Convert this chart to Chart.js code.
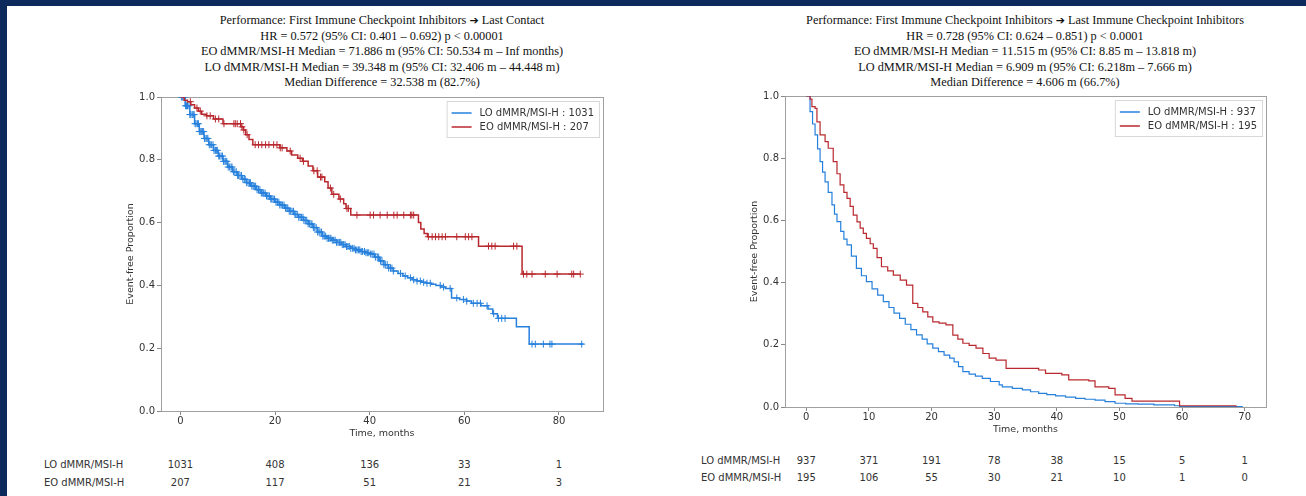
<!DOCTYPE html>
<html>
<head>
<meta charset="utf-8">
<script src="https://cdn.jsdelivr.net/npm/chart.js@4.4.1/dist/chart.umd.min.js"></script>
<style>
  html, body { margin: 0; padding: 0; }
  body { width: 1306px; height: 496px; background: #0c2a5c; position: relative; overflow: hidden; }
  #panel { position: absolute; left: 7px; top: 6px; right: 0; bottom: 0; background: #fff; }
  .title { position: absolute; font-family: "Liberation Serif", "Times New Roman", serif; font-size: 12.3px;
           line-height: 15.5px; color: #111; text-align: center; white-space: nowrap; }
  .title .arr { font-family: "DejaVu Sans", sans-serif; font-size: 11px; }
  .box { position: absolute; }
  .risk { position: absolute; font-family: "DejaVu Sans", sans-serif; font-size: 10px; color: #333;
          white-space: nowrap; line-height: 12px; }
</style>
</head>
<body>
<div id="panel"></div>

<div class="title" style="left:182px; top:13px; width:400px;">
  Performance: First Immune Checkpoint Inhibitors <span class="arr">➔</span> Last Contact<br>
  HR = 0.572 (95% CI: 0.401 – 0.692) p &lt; 0.00001<br>
  EO dMMR/MSI-H Median = 71.886 m (95% CI: 50.534 m – Inf months)<br>
  LO dMMR/MSI-H Median = 39.348 m (95% CI: 32.406 m – 44.448 m)<br>
  Median Difference = 32.538 m (82.7%)
</div>
<div class="title" style="left:795px; top:13px; width:460px;">
  Performance: First Immune Checkpoint Inhibitors <span class="arr">➔</span> Last Immune Checkpoint Inhibitors<br>
  HR = 0.728 (95% CI: 0.624 – 0.851) p &lt; 0.0001<br>
  EO dMMR/MSI-H Median = 11.515 m (95% CI: 8.85 m – 13.818 m)<br>
  LO dMMR/MSI-H Median = 6.909 m (95% CI: 6.218m – 7.666 m)<br>
  Median Difference = 4.606 m (66.7%)
</div>

<div class="box" style="left:90px; top:88px;"><canvas id="leftChart" width="530" height="353"></canvas></div>
<div class="box" style="left:690px; top:88px;"><canvas id="rightChart" width="595" height="349"></canvas></div>
<div id="riskTables"></div>

<script>
// ---- left panel: first ICI -> last contact ----
const leftTicks = [0, 20, 40, 60, 80];
const leftLoTime = [0, 1, 2, 3, 4, 5, 6, 7, 8, 9, 10, 11, 12, 13, 14, 15, 16, 17, 18, 19, 20, 21, 22, 23, 24, 25,
  26, 27, 28, 29, 30, 31, 32, 33, 34, 35, 36, 37, 38, 39, 40, 41, 42, 43, 44, 45, 46, 47, 48, 49, 50, 51, 52,
  53, 54, 55, 56, 57.3, 59, 60.5, 61.5, 63.5, 65, 66, 67, 71, 73.7, 85.2];
const leftLoSurv = [1.0, 0.972, 0.944, 0.915, 0.89, 0.868, 0.848, 0.83, 0.812, 0.795, 0.777, 0.762, 0.75, 0.738,
  0.727, 0.716, 0.705, 0.694, 0.685, 0.675, 0.665, 0.656, 0.646, 0.636, 0.626, 0.617, 0.607, 0.596, 0.584, 0.57,
  0.557, 0.55, 0.544, 0.537, 0.53, 0.524, 0.518, 0.513, 0.508, 0.504, 0.5, 0.49, 0.478, 0.466, 0.455, 0.446,
  0.438, 0.43, 0.424, 0.418, 0.414, 0.41, 0.407, 0.404, 0.4, 0.395, 0.39, 0.36, 0.355, 0.35, 0.343, 0.335,
  0.325, 0.31, 0.295, 0.268, 0.213, 0.213];
const leftEoTime = [0, 0.8, 1.5, 2.2, 3.0, 3.8, 4.5, 5.5, 7.0, 9.0, 12.8, 13.3, 13.8, 14.5, 15.3, 21.0, 22.5,
  23.5, 24.8, 25.8, 27.0, 28.0, 29.0, 30.5, 31.2, 32.0, 33.5, 34.5, 35.0, 36.0, 50.3, 50.8, 51.5, 52.2, 63.0,
  72.2, 84.5];
const leftEoSurv = [1.0, 0.99, 0.985, 0.975, 0.965, 0.955, 0.945, 0.94, 0.93, 0.915, 0.905, 0.895, 0.88, 0.865,
  0.848, 0.838, 0.828, 0.815, 0.805, 0.795, 0.78, 0.765, 0.745, 0.73, 0.71, 0.69, 0.675, 0.66, 0.645, 0.624,
  0.6, 0.58, 0.565, 0.555, 0.525, 0.436, 0.436];
const leftLoCensor = [0.2, 0.4, 0.6, 0.9, 1.1, 1.3, 1.5, 1.8, 2.0, 2.2, 2.5, 2.7, 2.9, 3.1, 3.3, 3.6, 3.8, 4.0,
  4.2, 4.5, 4.7, 4.9, 5.1, 5.4, 5.6, 5.8, 6.1, 6.3, 6.6, 6.9, 7.1, 7.4, 7.6, 7.8, 8.1, 8.3, 8.6, 8.9, 9.1, 9.4,
  9.6, 9.8, 10.1, 10.4, 10.7, 10.9, 11.2, 11.5, 11.8, 12.1, 12.3, 12.6, 12.9, 13.2, 13.5, 13.7, 14.0, 14.3,
  14.6, 14.8, 15.1, 15.4, 15.7, 15.9, 16.2, 16.5, 16.8, 17.1, 17.4, 17.6, 17.9, 18.2, 18.5, 18.8, 19.1, 19.3,
  19.6, 19.9, 20.2, 20.5, 20.8, 21.0, 21.3, 21.6, 21.9, 22.2, 22.5, 22.7, 23.0, 23.3, 23.6, 23.9, 24.2, 24.4,
  24.7, 25.0, 25.3, 25.6, 25.9, 26.1, 26.4, 26.7, 27.0, 27.3, 27.6, 27.8, 28.1, 28.4, 28.7, 29.0, 29.3, 29.5,
  29.8, 30.1, 30.4, 30.7, 31.0, 31.3, 31.6, 31.8, 32.1, 32.4, 32.7, 33.0, 33.3, 33.6, 33.9, 34.2, 34.5, 34.8,
  35.1, 35.4, 35.7, 36.0, 36.4, 36.7, 37.0, 37.3, 37.6, 37.9, 38.2, 38.5, 38.9, 39.2, 39.5, 39.8, 40.2, 40.5,
  40.9, 41.2, 41.6, 41.9, 42.3, 42.6, 43.0, 43.3, 43.7, 44.0, 44.4, 44.7, 45.0, 46.5, 47.5, 48.6, 49.3, 50.0,
  50.7, 51.4, 52.1, 52.8, 54.9, 55.6, 57.0, 58.4, 59.8, 60.5, 61.9, 62.7, 63.4, 64.8, 66.2, 67.2, 67.9, 68.6,
  74.3, 75.0, 76.7, 78.1, 78.5, 84.8];
const leftEoCensor = [2.1, 3.5, 4.2, 5.6, 6.3, 7.4, 8.1, 9.2, 11.3, 11.6, 12.0, 12.7, 13.0, 13.4, 14.1, 15.8,
  16.5, 17.2, 18.0, 18.7, 19.7, 20.4, 21.1, 21.5, 23.2, 25.3, 26.0, 28.2, 28.9, 29.6, 29.9, 31.7, 32.4, 33.8,
  35.2, 35.5, 37.3, 40.1, 40.8, 42.2, 43.7, 45.1, 45.8, 47.2, 48.6, 48.9, 49.3, 52.4, 53.2, 53.9, 54.6, 55.3,
  56.0, 58.4, 60.2, 60.9, 61.6, 65.1, 65.8, 66.5, 70.4, 71.1, 72.5, 73.2, 74.3, 77.1, 79.6, 82.7, 83.1, 84.5];
const leftRiskLo = [1031, 408, 136, 33, 1];
const leftRiskEo = [207, 117, 51, 21, 3];

// ---- right panel: first ICI -> last ICI ----
const rightTicks = [0, 10, 20, 30, 40, 50, 60, 70];
const rightLoTime = [0, 0.6, 1.0, 1.4, 1.8, 2.2, 2.6, 3.0, 3.5, 4.1, 4.5, 4.9, 5.5, 6.0, 6.5, 7.2, 8.0, 8.8, 9.6,
  10.5, 11.4, 12.3, 13.2, 14.0, 14.9, 15.8, 16.7, 17.6, 18.5, 19.3, 20.2, 21.1, 22.0, 22.9, 23.6, 24.3, 25.0,
  26.0, 27.0, 28.1, 29.4, 30.8, 31.3, 32.9, 34.5, 35.8, 37.1, 38.4, 39.8, 41.4, 43.0, 44.5, 46.1, 47.7, 49.3,
  51.0, 53.0, 55.5, 58.8, 59.6, 69.7];
const rightLoSurv = [1.0, 0.95, 0.91, 0.875, 0.83, 0.789, 0.755, 0.724, 0.69, 0.65, 0.62, 0.596, 0.565, 0.54,
  0.521, 0.485, 0.446, 0.422, 0.403, 0.38, 0.36, 0.339, 0.32, 0.302, 0.285, 0.266, 0.249, 0.232, 0.218, 0.203,
  0.189, 0.178, 0.167, 0.157, 0.145, 0.13, 0.114, 0.106, 0.099, 0.092, 0.082, 0.071, 0.065, 0.06, 0.055, 0.049,
  0.044, 0.04, 0.036, 0.032, 0.028, 0.025, 0.022, 0.017, 0.012, 0.01, 0.009, 0.007, 0.004, 0.001, 0.001];
const rightEoTime = [0, 0.6, 0.9, 1.4, 1.7, 2.2, 3.0, 3.5, 4.3, 4.9, 5.4, 6.0, 6.5, 7.0, 7.5, 8.1, 8.6, 9.1, 9.6,
  10.2, 10.7, 11.3, 12.0, 13.0, 13.9, 15.0, 16.0, 17.0, 17.8, 18.6, 19.4, 20.2, 21.2, 22.3, 23.4, 24.2, 25.0,
  26.0, 27.1, 28.2, 29.2, 30.3, 31.9, 37.1, 38.2, 40.8, 41.9, 45.1, 46.1, 48.3, 49.3, 50.9, 52.0, 58.3, 59.6,
  68.6];
const rightEoSurv = [1.0, 0.99, 0.966, 0.96, 0.917, 0.875, 0.853, 0.832, 0.789, 0.75, 0.714, 0.69, 0.671, 0.645,
  0.617, 0.595, 0.575, 0.558, 0.542, 0.525, 0.51, 0.48, 0.451, 0.438, 0.424, 0.408, 0.392, 0.333, 0.32, 0.306,
  0.29, 0.274, 0.27, 0.264, 0.231, 0.218, 0.205, 0.198, 0.189, 0.172, 0.157, 0.151, 0.124, 0.119, 0.108, 0.103,
  0.087, 0.084, 0.065, 0.06, 0.039, 0.028, 0.019, 0.019, 0.004, 0.001];
const rightRiskLo = [937, 371, 191, 78, 38, 15, 5, 1];
const rightRiskEo = [195, 106, 55, 30, 21, 10, 1, 0];

const riskLabels = ['LO dMMR/MSI-H', 'EO dMMR/MSI-H'];
const BLUE = '#2680dc';
const RED = '#b8282e';
const FONT = 'DejaVu Sans';

Chart.defaults.font.family = FONT;
Chart.defaults.color = '#333';

function toPoints(times, surv) {
    return times.map((t, i) => ({ x: t, y: surv[i] }));
}

// survival value of a step curve at time t (for censor marks)
function survAt(times, surv, t) {
    let s = surv[0];
    for (let i = 0; i < times.length; i++) {
        if (times[i] <= t) s = surv[i];
    }
    return s;
}

function censorPoints(times, surv, cens) {
    return cens.map(t => ({ x: t, y: survAt(times, surv, t) }));
}

// box around the plot area, like matplotlib spines
const framePlugin = {
    id: 'frame',
    beforeDatasetsDraw(chart) {
        const { ctx, chartArea: a } = chart;
        ctx.save();
        ctx.strokeStyle = '#a0a0a0';
        ctx.lineWidth = 1;
        ctx.strokeRect(a.left + 0.5, a.top + 0.5, a.right - a.left, a.bottom - a.top);
        ctx.restore();
    }
};

// legend drawn inside the upper right corner of the plot
const insideLegend = {
    id: 'insideLegend',
    afterDraw(chart, args, opts) {
        const { ctx, chartArea: a } = chart;
        ctx.save();
        ctx.font = '10px "' + FONT + '"';
        const textW = Math.max(...opts.items.map(it => ctx.measureText(it.label).width));
        const w = textW + 38;
        const h = 36;
        const x = a.right - w - opts.margin;
        const y = a.top + opts.margin;
        ctx.fillStyle = 'rgba(255,255,255,0.9)';
        ctx.strokeStyle = '#d8d8d8';
        ctx.lineWidth = 1;
        ctx.fillRect(x, y, w, h);
        ctx.strokeRect(x + 0.5, y + 0.5, w, h);
        opts.items.forEach((it, i) => {
            const cy = y + 12 + i * 14;
            ctx.strokeStyle = it.color;
            ctx.lineWidth = 1.5;
            ctx.beginPath();
            ctx.moveTo(x + 5, cy);
            ctx.lineTo(x + 25, cy);
            ctx.stroke();
            ctx.fillStyle = '#333';
            ctx.textBaseline = 'middle';
            ctx.fillText(it.label, x + 33, cy);
        });
        ctx.restore();
    }
};

function makeKmChart(id, cfg) {
    const ctx = document.getElementById(id).getContext('2d');
    const datasets = [{
        label: 'EO',
        data: toPoints(cfg.eoTime, cfg.eoSurv),
        showLine: true,
        stepped: 'before',
        borderColor: RED,
        borderWidth: cfg.lineWidth,
        pointRadius: 0,
        order: 1
    }, {
        label: 'LO',
        data: toPoints(cfg.loTime, cfg.loSurv),
        showLine: true,
        stepped: 'before',
        borderColor: BLUE,
        borderWidth: cfg.lineWidth,
        pointRadius: 0,
        order: 2
    }];
    if (cfg.eoCensor) {
        datasets.push({
            label: 'EO censored',
            data: censorPoints(cfg.eoTime, cfg.eoSurv, cfg.eoCensor),
            pointStyle: 'cross',
            pointRadius: 3.5,
            pointBorderWidth: 1,
            borderColor: RED,
            order: 1
        });
        datasets.push({
            label: 'LO censored',
            data: censorPoints(cfg.loTime, cfg.loSurv, cfg.loCensor),
            pointStyle: 'cross',
            pointRadius: 3.5,
            pointBorderWidth: 1,
            borderColor: BLUE,
            order: 2
        });
    }
    return new Chart(ctx, {
        type: 'scatter',
        data: { datasets },
        plugins: [framePlugin, insideLegend],
        options: {
            responsive: false,
            animation: false,
            devicePixelRatio: 1,
            layout: { padding: cfg.padding },
            plugins: {
                legend: { display: false },
                tooltip: { enabled: false },
                insideLegend: { items: cfg.legend, margin: 4 }
            },
            scales: {
                x: {
                    type: 'linear',
                    min: cfg.xMin,
                    max: cfg.xMax,
                    afterBuildTicks: s => { s.ticks = cfg.ticks.map(v => ({ value: v })); },
                    afterFit: s => { s.height = 30; },
                    grid: { drawOnChartArea: false, tickLength: 4, color: '#888' },
                    border: { color: '#a0a0a0' },
                    ticks: { padding: 0, font: { size: 10 }, color: '#333' },
                    title: { display: true, text: 'Time, months', font: { size: 9.5 }, color: '#333',
                             padding: { top: 0, bottom: 1.5 } }
                },
                y: {
                    min: 0,
                    max: 1,
                    afterFit: s => { s.width = cfg.yWidth; },
                    grid: { drawOnChartArea: false, tickLength: 4, color: '#888' },
                    border: { color: '#a0a0a0' },
                    ticks: { stepSize: 0.2, padding: 2, font: { size: 10 }, color: '#333',
                             callback: v => v.toFixed(1) },
                    title: { display: true, text: 'Event-free Proportion', font: { size: 9.5 }, color: '#333',
                             padding: { top: cfg.yTitlePad, bottom: 0 } }
                }
            }
        }
    });
}

function riskTable(chart, boxLeft, labelX, rowsY, rows) {
    const host = document.getElementById('riskTables');
    const xs = chart.scales.x;
    rows.forEach((vals, r) => {
        const lab = document.createElement('div');
        lab.className = 'risk';
        lab.style.left = labelX + 'px';
        lab.style.top = (rowsY[r] - 6) + 'px';
        lab.textContent = riskLabels[r];
        host.appendChild(lab);
        vals.forEach((v, i) => {
            const el = document.createElement('div');
            el.className = 'risk';
            el.style.left = (boxLeft + xs.getPixelForValue(xs.ticks[i].value) - 30) + 'px';
            el.style.width = '60px';
            el.style.textAlign = 'center';
            el.style.top = (rowsY[r] - 6) + 'px';
            el.textContent = v;
            host.appendChild(el);
        });
    });
}

const leftChart = makeKmChart('leftChart', {
    loTime: leftLoTime, loSurv: leftLoSurv, eoTime: leftEoTime, eoSurv: leftEoSurv,
    loCensor: leftLoCensor, eoCensor: leftEoCensor,
    ticks: leftTicks, xMin: -4.1, xMax: 89.3, lineWidth: 1.5,
    padding: { left: 0, right: 17, top: 9, bottom: 0 }, yWidth: 71, yTitlePad: 34.5,
    legend: [{ label: 'LO dMMR/MSI-H : 1031', color: BLUE }, { label: 'EO dMMR/MSI-H : 207', color: RED }]
});

const rightChart = makeKmChart('rightChart', {
    loTime: rightLoTime, loSurv: rightLoSurv, eoTime: rightEoTime, eoSurv: rightEoSurv,
    ticks: rightTicks, xMin: -3.4, xMax: 73.4, lineWidth: 1.2,
    padding: { left: 0, right: 19, top: 8, bottom: 0 }, yWidth: 95, yTitlePad: 58.5,
    legend: [{ label: 'LO dMMR/MSI-H : 937', color: BLUE }, { label: 'EO dMMR/MSI-H : 195', color: RED }]
});

riskTable(leftChart, 90, 44, [465, 483], [leftRiskLo, leftRiskEo]);
riskTable(rightChart, 690, 701, [461, 478], [rightRiskLo, rightRiskEo]);
</script>
</body>
</html>
